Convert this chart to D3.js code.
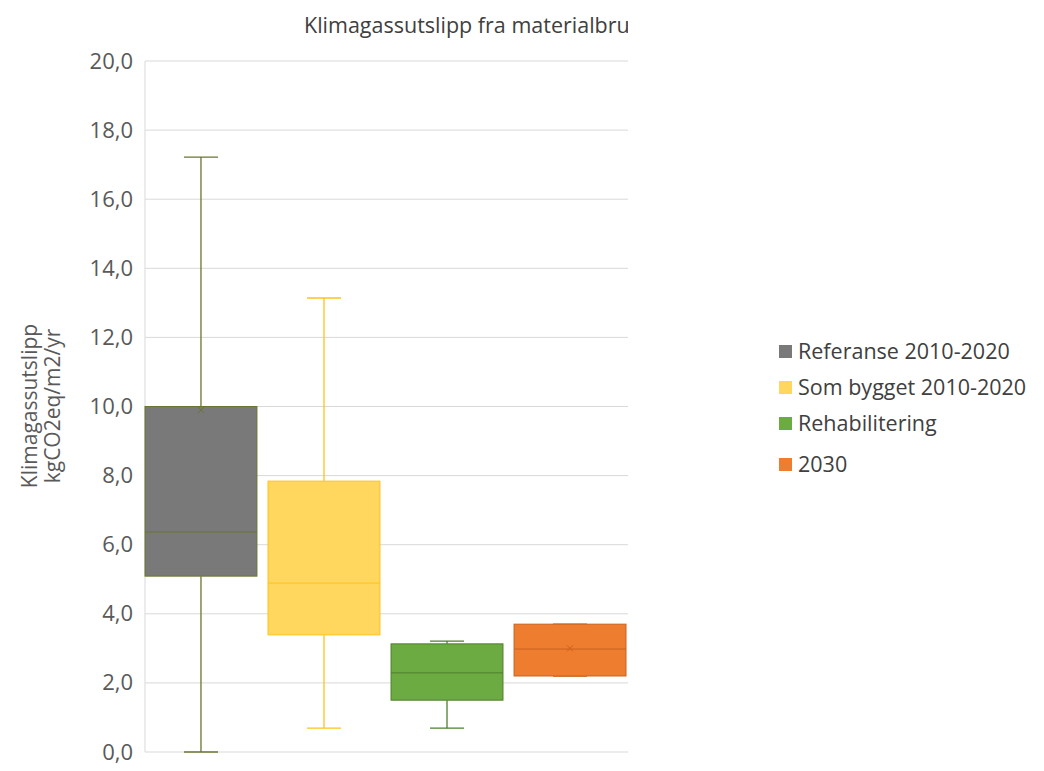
<!DOCTYPE html>
<html><head><meta charset="utf-8">
<script src="https://cdn.jsdelivr.net/npm/d3@7"></script>
<style>body{margin:0;background:#fff;} text{font-family:"Open Sans",sans-serif;}</style>
</head><body><svg id="c" width="1044" height="771"></svg>
<script>
const categories = ["Referanse 2010-2020","Som bygget 2010-2020","Rehabilitering","2030"];
const whiskerLow  = [0.0, 0.69, 0.69, 2.2];
const q1          = [5.09, 3.39, 1.5, 2.2];
const median      = [6.37, 4.89, 2.29, 2.98];
const q3          = [10.0, 7.84, 3.13, 3.70];
const whiskerHigh = [17.22, 13.14, 3.21, 3.70];
const means       = [9.9, null, null, 3.0];
const yTicks = [0,2,4,6,8,10,12,14,16,18,20];
const fills   = ["#797979","#ffd75e","#6cab42","#ee7d2f"];
const strokes = ["#6b7531","#ffc31a","#4f7f2c","#c9631c"];

(function(){
const svg = d3.select("#c");
const pLeft=145, pRight=628, pTop=61, pBottom=752;
const y = d3.scaleLinear().domain([0,20]).range([pBottom, pTop]);
const x = d3.scaleBand().domain(categories).range([145, 626]).paddingInner(0.09).paddingOuter(0);
const fmt = d => d3.format(".1f")(d).replace(".", ",");

svg.append("defs").append("clipPath").attr("id","clip")
  .append("rect").attr("x",0).attr("y",0).attr("width",pRight).attr("height",771);

const g = svg.append("g").attr("clip-path","url(#clip)");
g.selectAll("line.grid").data(yTicks).join("line")
  .attr("x1",pLeft).attr("x2",pRight+10).attr("y1",d=>y(d)).attr("y2",d=>y(d))
  .attr("stroke","#d9d9d9").attr("stroke-width",1);
g.append("line").attr("x1",pLeft).attr("x2",pLeft).attr("y1",pTop).attr("y2",pBottom).attr("stroke","#d9d9d9");

const ax = svg.append("g").attr("transform",`translate(${pLeft},0)`)
  .call(d3.axisLeft(y).tickValues(yTicks).tickFormat(fmt).tickSize(0).tickPadding(12));
ax.select(".domain").remove();
ax.selectAll("text").attr("font-size",22).attr("fill","#595959").attr("font-family","Open Sans");

const data = categories.map((c,i)=>({c,i}));
const bw = x.bandwidth();
const boxes = g.selectAll("g.box").data(data).join("g");
boxes.each(function(d){
  const s = d3.select(this), i=d.i, cx = x(d.c)+bw/2;
  const col = strokes[i];
  s.append("line").attr("x1",cx).attr("x2",cx).attr("y1",y(whiskerHigh[i])).attr("y2",y(q3[i])).attr("stroke",col).attr("stroke-width",1.3);
  s.append("line").attr("x1",cx).attr("x2",cx).attr("y1",y(q1[i])).attr("y2",y(whiskerLow[i])).attr("stroke",col).attr("stroke-width",1.3);
  s.append("line").attr("x1",cx-17).attr("x2",cx+17).attr("y1",y(whiskerHigh[i])).attr("y2",y(whiskerHigh[i])).attr("stroke",col).attr("stroke-width",1.3);
  s.append("line").attr("x1",cx-17).attr("x2",cx+17).attr("y1",y(whiskerLow[i])).attr("y2",y(whiskerLow[i])).attr("stroke",col).attr("stroke-width",1.3);
  s.append("rect").attr("x",x(d.c)).attr("width",bw).attr("y",y(q3[i])).attr("height",y(q1[i])-y(q3[i]))
    .attr("fill",fills[i]).attr("stroke",col).attr("stroke-width",1);
  s.append("line").attr("x1",x(d.c)).attr("x2",x(d.c)+bw).attr("y1",y(median[i])).attr("y2",y(median[i])).attr("stroke",col).attr("stroke-width",1);
  if(means[i]!=null){
    const my=y(means[i]);
    s.append("path").attr("d",`M${cx-3},${my-3}L${cx+3},${my+3}M${cx-3},${my+3}L${cx+3},${my-3}`).attr("stroke",col).attr("stroke-width",1);
  }
});

g.append("text").attr("x",304).attr("y",33).attr("font-size",21.5).attr("fill","#404040")
  .text("Klimagassutslipp fra materialbruk");

const yt = svg.append("text").attr("transform","translate(0,406) rotate(-90)").attr("text-anchor","middle")
  .attr("font-size",21).attr("fill","#595959");
yt.append("tspan").attr("x",0).attr("y",37).text("Klimagassutslipp");
yt.append("tspan").attr("x",0).attr("y",60).text("kgCO2eq/m2/yr");

const ly = [352,388,424,465];
const lg = svg.append("g").selectAll("g").data(data).join("g")
  .attr("transform",d=>`translate(779,${ly[d.i]})`);
lg.append("rect").attr("x",0).attr("y",-7).attr("width",13).attr("height",13).attr("fill",d=>fills[d.i]);
lg.append("text").attr("x",19).attr("y",7).attr("font-size",21.5).attr("fill","#404040").text(d=>d.c);
})();
</script></body></html>
